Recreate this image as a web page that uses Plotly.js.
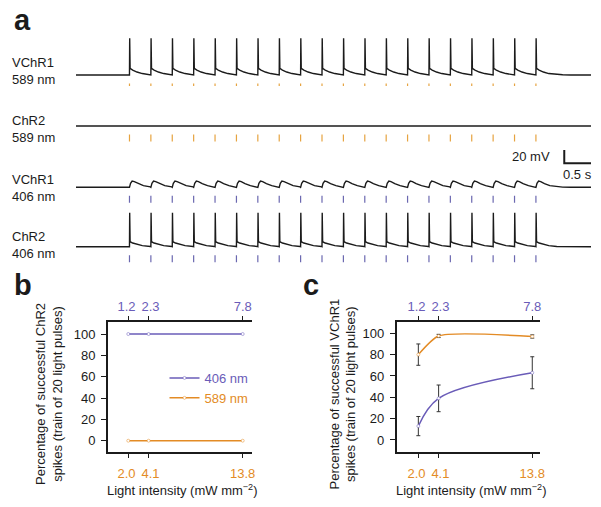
<!DOCTYPE html>
<html>
<head>
<meta charset="utf-8">
<script src="https://cdn.plot.ly/plotly-3.0.1.min.js"></script>
<style>
  html, body { margin: 0; padding: 0; background: #fff; }
  #plot { width: 601px; height: 507px; }
</style>
</head>
<body>
<div id="plot"></div>
<script>
// ---------- panel a: membrane potential traces ----------
// light pulse onsets (s), train of 20 pulses
const pulseTimes = [1.0, 1.4, 1.8, 2.2, 2.6, 3.0, 3.4, 3.8, 4.2, 4.6,
                    5.0, 5.4, 5.8, 6.2, 6.6, 7.0, 7.4, 7.8, 8.2, 8.6];
const traceEnd = 9.63;   // s
const restMv = -65;      // resting potential, mV
const pulseMarkMv = -83; // where the light pulse ticks sit

// one response cycle after each pulse: time from pulse (s), depolarisation (mV)
const spikeCycleT = [0, 0.004, 0.012, 0.06, 0.14, 0.24, 0.39];
const vchr1_589Cycle = [0, 55, 10, 7.5, 4.5, 2.2, 0.5];
const chr2_406Cycle = [0, 51, 7.5, 5.5, 3.5, 1.7, 0.4];
const bumpCycleT = [0, 0.02, 0.05, 0.09, 0.16, 0.26, 0.39];
const vchr1_406Cycle = [0, 6, 9.5, 8.5, 5.5, 2.5, 0.7];
// decay after the last pulse
const tailT = [0.5, 0.65, 0.85];
const vchr1_589Tail = [0.3, 0.1, 0];
const chr2_406Tail = [0.2, 0.05, 0];
const vchr1_406Tail = [0.3, 0.1, 0];

// ---------- panels b, c: spike success vs light intensity ----------
const intensity589 = [2.0, 4.1, 13.8];           // mW mm-2 (bottom axis, 589 nm)
const intensity589Labels = ['2.0\u00a0', '\u00a04.1', '13.8'];
const intensity406Labels = ['1.2\u00a0', '\u00a02.3', '7.8']; // mW mm-2 (top axis, 406 nm)
const pctTicks = [0, 20, 40, 60, 80, 100];

const chr2_406 = [100, 100, 100];
const chr2_589 = [0, 0, 0];
const vchr1_406 = [13, 39, 63];
const vchr1_406Err = [9, 12.5, 15];
const vchr1_589 = [80, 97.5, 97];
const vchr1_589Err = [10, 1.5, 1.5];

// ---------- helpers ----------
const W = 601, H = 507;
const PURPLE = '#6a5cb8';
const ORANGE = '#e38b25';
const TICK_ORANGE = '#e6a340';
const TICK_PURPLE = '#6b68b0';
const INK = '#1b1b1b';
const FONT = 'Liberation Sans, Arial, sans-serif';

function hdom(a, b) { return [a / W, b / W]; }
function vdom(top, bottom) { return [1 - bottom / H, 1 - top / H]; }
function py(y) { return 1 - y / H; }

function buildTrace(cycT, cycV, tailV) {
  const x = [0], y = [restMv];
  pulseTimes.forEach(p => {
    cycT.forEach((t, j) => { x.push(p + t); y.push(restMv + cycV[j]); });
  });
  const last = pulseTimes[pulseTimes.length - 1];
  tailT.forEach((t, j) => { x.push(last + t); y.push(restMv + tailV[j]); });
  x.push(traceEnd); y.push(restMv);
  return { x, y };
}

const rows = [
  { ax: 'y',  data: buildTrace(spikeCycleT, vchr1_589Cycle, vchr1_589Tail), tick: TICK_ORANGE },
  { ax: 'y2', data: { x: [0, traceEnd], y: [restMv, restMv] },               tick: TICK_ORANGE },
  { ax: 'y3', data: buildTrace(bumpCycleT, vchr1_406Cycle, vchr1_406Tail),  tick: TICK_PURPLE },
  { ax: 'y4', data: buildTrace(spikeCycleT, chr2_406Cycle, chr2_406Tail),   tick: TICK_PURPLE }
];

const traces = [];
rows.forEach(r => {
  traces.push({
    x: r.data.x, y: r.data.y, xaxis: 'x', yaxis: r.ax,
    mode: 'lines', line: { color: INK, width: 1.4 },
    showlegend: false, hoverinfo: 'skip'
  });
  traces.push({
    x: pulseTimes, y: pulseTimes.map(() => pulseMarkMv), xaxis: 'x', yaxis: r.ax,
    mode: 'markers',
    marker: { symbol: 'line-ns-open', size: 5, color: r.tick, line: { color: r.tick, width: 1.2 } },
    showlegend: false, hoverinfo: 'skip'
  });
});

// panel b (406 nm series sit on the top, 406 nm intensity axis)
traces.push({
  x: intensity589, y: chr2_406, xaxis: 'x3', yaxis: 'y5',
  mode: 'lines+markers', name: '<span style="color:' + PURPLE + '">406 nm</span>',
  line: { color: PURPLE, width: 1.5 },
  marker: { size: 3, color: '#fff', line: { color: PURPLE, width: 0.5 } }
});
traces.push({
  x: intensity589, y: chr2_589, xaxis: 'x2', yaxis: 'y5',
  mode: 'lines+markers', name: '<span style="color:' + ORANGE + '">589 nm</span>',
  line: { color: ORANGE, width: 1.5 },
  marker: { size: 3, color: '#fff', line: { color: ORANGE, width: 0.5 } }
});

// panel c
traces.push({
  x: intensity589, y: vchr1_589, xaxis: 'x4', yaxis: 'y6',
  mode: 'lines+markers', showlegend: false,
  line: { color: ORANGE, width: 1.5, shape: 'spline', smoothing: 0.6 },
  marker: { size: 3, color: '#fff', line: { color: ORANGE, width: 0.5 } },
  error_y: { type: 'data', array: vchr1_589Err, color: '#333', thickness: 1, width: 2 }
});
traces.push({
  x: intensity589, y: vchr1_406, xaxis: 'x5', yaxis: 'y6',
  mode: 'lines+markers', showlegend: false,
  line: { color: PURPLE, width: 1.5, shape: 'spline', smoothing: 1 },
  marker: { size: 3, color: '#fff', line: { color: PURPLE, width: 0.5 } },
  error_y: { type: 'data', array: vchr1_406Err, color: '#333', thickness: 1, width: 2 }
});

// ---------- layout ----------
const rowAxis = (top, bottom) => ({
  domain: vdom(top, bottom), range: [-90, -5], visible: false, anchor: 'x'
});

const frame = {
  showline: true, linecolor: INK, linewidth: 1.8,
  ticks: 'outside', ticklen: 4, tickwidth: 1.3, tickcolor: INK,
  showgrid: false, zeroline: false, tickangle: 0,
  tickfont: { family: FONT, size: 13, color: INK }
};

function bottomAxis(dom, range, anchor) {
  return Object.assign({}, frame, {
    domain: hdom(dom[0], dom[1]), range: range, anchor: anchor,
    tickvals: intensity589, ticktext: intensity589Labels,
    tickfont: { family: FONT, size: 13, color: ORANGE }, ticklen: 4, ticklabelstandoff: 5
  });
}
function topAxis(over, range, anchor) {
  return Object.assign({}, frame, {
    overlaying: over, side: 'top', range: range, anchor: anchor,
    tickvals: intensity589, ticktext: intensity406Labels,
    tickfont: { family: FONT, size: 13, color: PURPLE }, ticklen: 4
  });
}
function pctAxis(range, anchor) {
  return Object.assign({}, frame, {
    domain: vdom(322.3, 451.7), range: range, anchor: anchor,
    tickvals: pctTicks, ticklen: 5, ticklabelstandoff: 3
  });
}

const txt = (size, color) => ({ family: FONT, size: size, color: color || INK });

const annotations = [
  // panel letters
  { text: '<b>a</b>', x: 12 / W, y: py(20.5), xanchor: 'left', yanchor: 'middle', font: txt(29) },
  { text: '<b>b</b>', x: 12 / W, y: py(285), xanchor: 'left', yanchor: 'middle', font: txt(29) },
  { text: '<b>c</b>', x: 301 / W, y: py(285), xanchor: 'left', yanchor: 'middle', font: txt(29) },
  // row labels
  { text: 'VChR1<br>589 nm', x: 10 / W, y: py(71.5), xanchor: 'left', yanchor: 'middle', align: 'left', font: txt(13) },
  { text: 'ChR2<br>589 nm', x: 10 / W, y: py(128.5), xanchor: 'left', yanchor: 'middle', align: 'left', font: txt(13) },
  { text: 'VChR1<br>406 nm', x: 10 / W, y: py(188), xanchor: 'left', yanchor: 'middle', align: 'left', font: txt(13) },
  { text: 'ChR2<br>406 nm', x: 10 / W, y: py(244.5), xanchor: 'left', yanchor: 'middle', align: 'left', font: txt(13) },
  // scale bar labels
  { text: '20 mV', xref: 'x', yref: 'y3', x: traceEnd - 0.5, y: -19, xanchor: 'right', yanchor: 'middle', xshift: -12, font: txt(13) },
  { text: '0.5 s', xref: 'x', yref: 'y3', x: traceEnd - 0.25, y: -29, xanchor: 'center', yanchor: 'top', yshift: -2, font: txt(13) },
  // axis titles b
  { text: 'Percentage of successful ChR2<br>spikes (train of 20 light pulses)', x: 49 / W, y: py(394), textangle: -90, xanchor: 'center', yanchor: 'middle', font: txt(13) },
  { text: 'Light intensity (mW mm<sup>−2</sup>)', x: 182 / W, y: py(490), xanchor: 'center', yanchor: 'middle', font: txt(13) },
  // axis titles c
  { text: 'Percentage of successful VChR1<br>spikes (train of 20 light pulses)', x: 342.5 / W, y: py(394), textangle: -90, xanchor: 'center', yanchor: 'middle', font: txt(13) },
  { text: 'Light intensity (mW mm<sup>−2</sup>)', x: 471 / W, y: py(490), xanchor: 'center', yanchor: 'middle', font: txt(13) }
].map(a => Object.assign({ xref: 'paper', yref: 'paper', showarrow: false }, a));

const shapes = [
  // scale bar: 20 mV / 0.5 s
  { type: 'path', xref: 'x', yref: 'y3',
    path: 'M ' + (traceEnd - 0.5) + ' -9 L ' + (traceEnd - 0.5) + ' -29 L ' + traceEnd + ' -29',
    line: { color: INK, width: 2 } }
];

const xbRange = [-0.09, 14.76];
const xcRange = [-0.24, 14.6];

const layout = {
  width: W, height: H,
  margin: { l: 0, r: 0, t: 0, b: 0 },
  paper_bgcolor: '#fff', plot_bgcolor: '#fff',
  font: { family: FONT, size: 13, color: INK },
  showlegend: true,
  legend: {
    x: 164.5 / W, y: py(363), xanchor: 'left', yanchor: 'top',
    bgcolor: 'rgba(0,0,0,0)', font: { family: FONT, size: 13 },
    itemwidth: 30, tracegroupgap: 0
  },
  xaxis: { domain: hdom(76, 591), range: [0, traceEnd], visible: false, anchor: 'y' },
  yaxis: rowAxis(35, 91.7),
  yaxis2: rowAxis(86, 142.7),
  yaxis3: rowAxis(147.3, 204),
  yaxis4: rowAxis(206.7, 263.4),
  xaxis2: bottomAxis([108, 252], xbRange, 'y5'),
  xaxis3: topAxis('x2', xbRange, 'y5'),
  yaxis5: pctAxis([-10.3, 111], 'x2'),
  xaxis4: bottomAxis([396.7, 540], xcRange, 'y6'),
  xaxis5: topAxis('x4', xcRange, 'y6'),
  yaxis6: pctAxis([-11, 110.3], 'x4'),
  annotations: annotations,
  shapes: shapes
};

Plotly.newPlot('plot', traces, layout, { displayModeBar: false });
</script>
</body>
</html>
